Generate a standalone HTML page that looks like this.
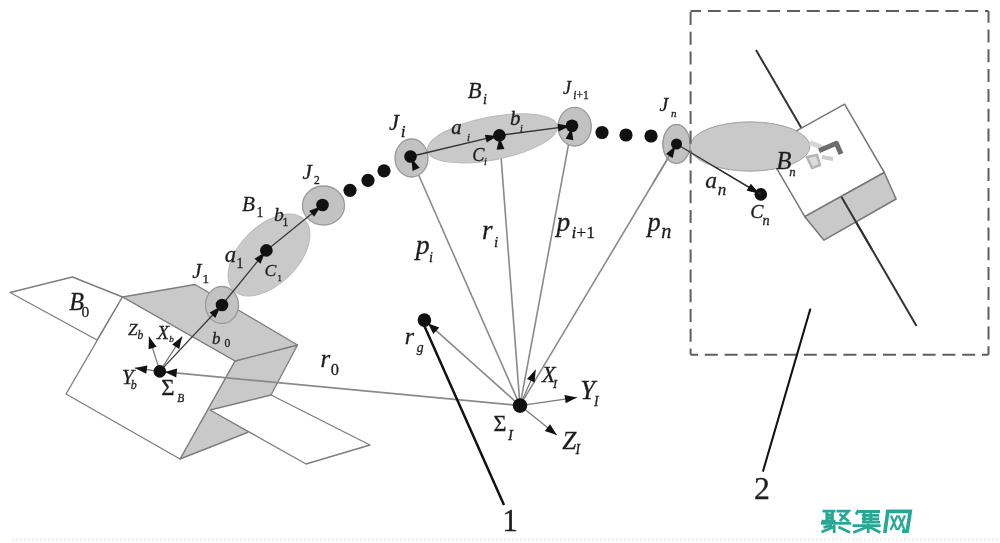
<!DOCTYPE html>
<html><head><meta charset="utf-8"><style>
html,body{margin:0;padding:0;background:#fff;width:1000px;height:543px;overflow:hidden}
svg{display:block;will-change:transform}
text{font-family:"Liberation Serif",serif}
</style></head><body>
<svg width="1000" height="543" viewBox="0 0 1000 543">
<rect width="1000" height="543" fill="#fff"/>
<polygon points="10,292.5 72.5,277 122.5,297 97,340" fill="#fff" stroke="#7e7e7e" stroke-width="1.35" stroke-linejoin="round"/>
<polygon points="235,361 297.5,345 271,395 247.5,432.5 180,459" fill="#c9c9c9" stroke="#7e7e7e" stroke-width="1.35" stroke-linejoin="round"/>
<polygon points="210,410 271,395 370,445 306,464" fill="#fff" stroke="#7e7e7e" stroke-width="1.35" stroke-linejoin="round"/>
<polygon points="122.5,297 195,284.5 297.5,345 235,361" fill="#c9c9c9" stroke="#7e7e7e" stroke-width="1.35" stroke-linejoin="round"/>
<polygon points="122.5,297 235,361 180,459 66,394" fill="#fff" stroke="#7e7e7e" stroke-width="1.35" stroke-linejoin="round"/>
<line x1="520.0" y1="405.6" x2="159.8" y2="371.4" stroke="#8a8a8a" stroke-width="1.8"/>
<line x1="520.0" y1="405.6" x2="410.5" y2="156.5" stroke="#8a8a8a" stroke-width="1.6"/>
<line x1="520.0" y1="405.6" x2="499.4" y2="135.4" stroke="#8a8a8a" stroke-width="1.6"/>
<line x1="520.0" y1="405.6" x2="572.0" y2="125.8" stroke="#8a8a8a" stroke-width="1.6"/>
<line x1="520.0" y1="405.6" x2="676.5" y2="144.0" stroke="#8a8a8a" stroke-width="1.6"/>
<line x1="520.0" y1="405.6" x2="424.4" y2="320.1" stroke="#8a8a8a" stroke-width="1.6"/>
<ellipse cx="269" cy="255" rx="50" ry="29" transform="rotate(-45 269 255)" fill="#c9c9c9" stroke="#b8b8b8" stroke-width="1"/>
<ellipse cx="492.4" cy="138.3" rx="66" ry="21.5" transform="rotate(-11 492.4 138.3)" fill="#c9c9c9" stroke="#b8b8b8" stroke-width="1"/>
<ellipse cx="750" cy="146.5" rx="60" ry="24.5" transform="rotate(0 750 146.5)" fill="#c9c9c9" stroke="#a8a8a8" stroke-width="1"/>
<ellipse cx="222" cy="305" rx="16.5" ry="18.5" transform="rotate(0 222 305)" fill="#c2c2c2" stroke="#9a9a9a" stroke-width="1.3"/>
<ellipse cx="323.5" cy="205.5" rx="21" ry="19.5" transform="rotate(0 323.5 205.5)" fill="#c2c2c2" stroke="#9a9a9a" stroke-width="1.3"/>
<ellipse cx="411.5" cy="158" rx="16.5" ry="19" transform="rotate(0 411.5 158)" fill="#c2c2c2" stroke="#9a9a9a" stroke-width="1.3"/>
<ellipse cx="574.7" cy="126.7" rx="16.6" ry="19.3" transform="rotate(0 574.7 126.7)" fill="#c2c2c2" stroke="#9a9a9a" stroke-width="1.3"/>
<ellipse cx="676.5" cy="144" rx="13.5" ry="19.4" transform="rotate(0 676.5 144)" fill="#c2c2c2" stroke="#9a9a9a" stroke-width="1.3"/>
<line x1="159.8" y1="371.4" x2="222.0" y2="305.0" stroke="#3a3a3a" stroke-width="1.3"/><polygon points="220.6,306.5 215.3,317.9 209.6,312.6" fill="#111"/>
<line x1="222.0" y1="305.0" x2="266.4" y2="250.4" stroke="#3a3a3a" stroke-width="1.3"/><polygon points="265.1,252.0 260.6,263.7 254.5,258.8" fill="#111"/>
<line x1="266.4" y1="250.4" x2="322.5" y2="205.0" stroke="#3a3a3a" stroke-width="1.3"/><polygon points="320.9,206.3 314.1,216.8 309.2,210.8" fill="#111"/>
<line x1="410.5" y1="156.5" x2="499.4" y2="135.4" stroke="#333" stroke-width="1.3"/><polygon points="497.5,135.9 486.7,142.4 484.9,134.8" fill="#111"/>
<line x1="499.4" y1="135.4" x2="572.0" y2="125.8" stroke="#333" stroke-width="1.3"/><polygon points="570.0,126.0 558.6,131.5 557.6,123.7" fill="#111"/>
<line x1="676.5" y1="144.0" x2="760.8" y2="194.4" stroke="#333" stroke-width="1.3"/><polygon points="759.1,193.4 746.8,190.6 750.8,183.9" fill="#111"/>
<polygon points="411.3,158.3 419.7,167.7 412.6,170.9" fill="#111"/>
<polygon points="499.6,137.4 504.4,149.1 496.6,149.7" fill="#111"/>
<polygon points="571.6,127.7 573.3,140.2 565.6,138.8" fill="#111"/>
<polygon points="675.5,145.7 672.7,158.0 666.0,154.0" fill="#111"/>
<polygon points="428.1,323.4 439.3,327.4 433.3,334.1" fill="#111"/>
<polygon points="164.8,371.9 177.1,368.5 176.3,377.5" fill="#111"/>
<line x1="159.8" y1="371.4" x2="149.0" y2="336.6" stroke="#7a7a7a" stroke-width="1.3"/><polygon points="149.0,336.6 156.6,346.8 148.5,349.3" fill="#111"/>
<line x1="159.8" y1="371.4" x2="182.2" y2="336.6" stroke="#7a7a7a" stroke-width="1.3"/><polygon points="182.2,336.6 179.2,349.0 172.2,344.4" fill="#111"/>
<line x1="159.8" y1="371.4" x2="134.9" y2="368.0" stroke="#7a7a7a" stroke-width="1.3"/><polygon points="134.9,368.0 147.4,365.5 146.2,373.8" fill="#111"/>
<line x1="520.0" y1="405.6" x2="535.6" y2="369.7" stroke="#7a7a7a" stroke-width="1.3"/><polygon points="535.6,369.7 534.7,382.4 527.0,379.0" fill="#111"/>
<line x1="520.0" y1="405.6" x2="577.0" y2="397.4" stroke="#7a7a7a" stroke-width="1.3"/><polygon points="577.0,397.4 565.7,403.3 564.5,395.0" fill="#111"/>
<line x1="520.0" y1="405.6" x2="556.8" y2="435.1" stroke="#7a7a7a" stroke-width="1.3"/><polygon points="556.8,435.1 544.8,430.9 550.1,424.3" fill="#111"/>
<line x1="422.6" y1="322.0" x2="504.0" y2="505.0" stroke="#111" stroke-width="2.5"/>
<circle cx="159.8" cy="371.4" r="6.3" fill="#111"/>
<circle cx="222" cy="305" r="6.3" fill="#111"/>
<circle cx="266.4" cy="250.4" r="6.3" fill="#111"/>
<circle cx="322.5" cy="205" r="6.3" fill="#111"/>
<circle cx="410.5" cy="156.5" r="6.3" fill="#111"/>
<circle cx="499.4" cy="135.4" r="6.3" fill="#111"/>
<circle cx="572" cy="125.75" r="6.3" fill="#111"/>
<circle cx="760.8" cy="194.4" r="6.3" fill="#111"/>
<circle cx="676.5" cy="144" r="5.5" fill="#111"/>
<circle cx="350" cy="190.3" r="6.6" fill="#111"/>
<circle cx="368" cy="180.3" r="6.6" fill="#111"/>
<circle cx="384" cy="170.8" r="6.6" fill="#111"/>
<circle cx="602" cy="132.5" r="6.6" fill="#111"/>
<circle cx="626" cy="135" r="6.6" fill="#111"/>
<circle cx="651" cy="136" r="6.6" fill="#111"/>
<circle cx="520" cy="405.6" r="7.3" fill="#111"/>
<circle cx="424.4" cy="320.1" r="6.8" fill="#111"/>
<line x1="756.0" y1="50.0" x2="916.5" y2="326.0" stroke="#333" stroke-width="2"/>
<polygon points="844.6,104.1 884.3,172.5 804.8,216.7 765,148.3" fill="#fff" stroke="#777" stroke-width="1.5" stroke-linejoin="round"/>
<polygon points="804.8,216.7 884.3,172.5 896.1,199 824,240.2" fill="#c9c9c9" stroke="#777" stroke-width="1.5" stroke-linejoin="round"/>
<line x1="841.5" y1="197.0" x2="871.7" y2="249.0" stroke="#333" stroke-width="2"/>
<ellipse cx="750" cy="146.5" rx="60" ry="24.5" transform="rotate(0 750 146.5)" fill="#c9c9c9" stroke="#a8a8a8" stroke-width="1"/>
<polyline points="810,142.5 823,148" fill="none" stroke="#d6d6d6" stroke-width="5"/>
<path d="M807,157 L812,168 L820,165 L817,155 Z" fill="#dcdcdc" stroke="#b4b4b4" stroke-width="2.5" stroke-linejoin="round"/>
<polyline points="822,157 833,159" fill="none" stroke="#cdcdcd" stroke-width="4"/>
<polyline points="819,150.7 836.4,143.3 841,154" fill="none" stroke="#6c6c6c" stroke-width="5" stroke-linejoin="round"/>
<ellipse cx="676.5" cy="144" rx="13.5" ry="19.4" transform="rotate(0 676.5 144)" fill="#c2c2c2" stroke="#9a9a9a" stroke-width="1.3"/>
<line x1="676.5" y1="144.0" x2="760.8" y2="194.4" stroke="#333" stroke-width="1.3"/><polygon points="759.1,193.4 746.8,190.6 750.8,183.9" fill="#111"/>
<line x1="653.0" y1="183.2" x2="676.5" y2="144.0" stroke="#8a8a8a" stroke-width="1.5"/>
<polygon points="675.5,145.7 672.7,158.0 666.0,154.0" fill="#111"/>
<circle cx="676.5" cy="144" r="5.5" fill="#111"/>
<line x1="690.6" y1="11" x2="988.5" y2="11" stroke="#5e5e5e" stroke-width="2" stroke-dasharray="13,6.8" stroke-dashoffset="2.6"/>
<line x1="690.6" y1="11" x2="690.6" y2="354.7" stroke="#5e5e5e" stroke-width="2" stroke-dasharray="13,6.8" stroke-dashoffset="-1"/>
<line x1="690.6" y1="354.7" x2="988.5" y2="354.7" stroke="#5e5e5e" stroke-width="2" stroke-dasharray="13,6.8" stroke-dashoffset="5.6"/>
<line x1="988.5" y1="354.7" x2="988.5" y2="11" stroke="#5e5e5e" stroke-width="2" stroke-dasharray="13,6.8" stroke-dashoffset="4.6"/>
<line x1="810.4" y1="308.6" x2="762.9" y2="471.6" stroke="#111" stroke-width="2"/>
<text x="69.3" y="309.7" font-size="24.2" font-style="italic" fill="#1e1e1e" stroke="#1e1e1e" stroke-width="0.3">B</text>
<text x="81.5" y="317.1" font-size="15.5" font-style="normal" fill="#1e1e1e" stroke="#1e1e1e" stroke-width="0.3">0</text>
<text x="192.2" y="278.1" font-size="20.8" font-style="italic" fill="#1e1e1e" stroke="#1e1e1e" stroke-width="0.3">J</text>
<text x="202.5" y="282.8" font-size="13.2" font-style="normal" fill="#1e1e1e" stroke="#1e1e1e" stroke-width="0.3">1</text>
<text x="264.6" y="276.2" font-size="17.7" font-style="italic" fill="#1e1e1e" stroke="#1e1e1e" stroke-width="0.3">C</text>
<text x="277.4" y="280.8" font-size="8.6" font-style="normal" fill="#1e1e1e" stroke="#1e1e1e" stroke-width="0.3">1</text>
<text x="242.0" y="211.2" font-size="21.1" font-style="italic" fill="#1e1e1e" stroke="#1e1e1e" stroke-width="0.3">B</text>
<text x="256.5" y="217.0" font-size="13.9" font-style="normal" fill="#1e1e1e" stroke="#1e1e1e" stroke-width="0.3">1</text>
<text x="273.9" y="220.7" font-size="19.6" font-style="italic" fill="#1e1e1e" stroke="#1e1e1e" stroke-width="0.3">b</text>
<text x="282.4" y="225.8" font-size="11.7" font-style="normal" fill="#1e1e1e" stroke="#1e1e1e" stroke-width="0.3">1</text>
<text x="224.7" y="261.8" font-size="22.7" font-style="italic" fill="#1e1e1e" stroke="#1e1e1e" stroke-width="0.3">a</text>
<text x="236.6" y="267.8" font-size="13.9" font-style="normal" fill="#1e1e1e" stroke="#1e1e1e" stroke-width="0.3">1</text>
<text x="302.4" y="178.6" font-size="21.2" font-style="italic" fill="#1e1e1e" stroke="#1e1e1e" stroke-width="0.3">J</text>
<text x="314.0" y="183.7" font-size="11.5" font-style="normal" fill="#1e1e1e" stroke="#1e1e1e" stroke-width="0.3">2</text>
<text x="128.1" y="334.9" font-size="17.1" font-style="italic" fill="#1e1e1e" stroke="#1e1e1e" stroke-width="0.3">Z</text>
<text x="137.4" y="339.0" font-size="11.6" font-style="italic" fill="#1e1e1e" stroke="#1e1e1e" stroke-width="0.3">b</text>
<text x="157.0" y="338.5" font-size="19.8" font-style="italic" fill="#1e1e1e" stroke="#1e1e1e" stroke-width="0.3">X</text>
<text x="169.3" y="341.8" font-size="9.0" font-style="italic" fill="#1e1e1e" stroke="#1e1e1e" stroke-width="0.3">b</text>
<text x="121.7" y="383.8" font-size="21.5" font-style="italic" fill="#1e1e1e" stroke="#1e1e1e" stroke-width="0.3">Y</text>
<text x="130.8" y="389.2" font-size="12.0" font-style="italic" fill="#1e1e1e" stroke="#1e1e1e" stroke-width="0.3">b</text>
<text x="161.2" y="395.3" font-size="22.9" font-style="normal" fill="#1e1e1e" stroke="#1e1e1e" stroke-width="0.3">&#931;</text>
<text x="177.2" y="402.2" font-size="11.5" font-style="italic" fill="#1e1e1e" stroke="#1e1e1e" stroke-width="0.3">B</text>
<text x="212.1" y="344.3" font-size="16.9" font-style="italic" fill="#1e1e1e" stroke="#1e1e1e" stroke-width="0.3">b</text>
<text x="224.4" y="347.3" font-size="11.6" font-style="normal" fill="#1e1e1e" stroke="#1e1e1e" stroke-width="0.3">0</text>
<text x="320.5" y="367.4" font-size="24.9" font-style="italic" fill="#1e1e1e" stroke="#1e1e1e" stroke-width="0.3">r</text>
<text x="330.8" y="374.8" font-size="16.4" font-style="normal" fill="#1e1e1e" stroke="#1e1e1e" stroke-width="0.3">0</text>
<text x="388.9" y="129.8" font-size="22.4" font-style="italic" fill="#1e1e1e" stroke="#1e1e1e" stroke-width="0.3">J</text>
<text x="400.8" y="137.4" font-size="17.4" font-style="italic" fill="#1e1e1e" stroke="#1e1e1e" stroke-width="0.3">i</text>
<text x="451.3" y="133.6" font-size="20.6" font-style="italic" fill="#1e1e1e" stroke="#1e1e1e" stroke-width="0.3">a</text>
<text x="467.0" y="141.2" font-size="10.8" font-style="italic" fill="#1e1e1e" stroke="#1e1e1e" stroke-width="0.3">i</text>
<text x="467.8" y="97.7" font-size="22.5" font-style="italic" fill="#1e1e1e" stroke="#1e1e1e" stroke-width="0.3">B</text>
<text x="482.9" y="103.8" font-size="14.3" font-style="italic" fill="#1e1e1e" stroke="#1e1e1e" stroke-width="0.3">i</text>
<text x="510.1" y="124.5" font-size="20.9" font-style="italic" fill="#1e1e1e" stroke="#1e1e1e" stroke-width="0.3">b</text>
<text x="519.9" y="131.8" font-size="10.3" font-style="italic" fill="#1e1e1e" stroke="#1e1e1e" stroke-width="0.3">i</text>
<text x="472.2" y="160.5" font-size="18.2" font-style="italic" fill="#1e1e1e" stroke="#1e1e1e" stroke-width="0.3">C</text>
<text x="484.0" y="164.9" font-size="10.3" font-style="italic" fill="#1e1e1e" stroke="#1e1e1e" stroke-width="0.3">i</text>
<text x="563.1" y="94.0" font-size="18.2" font-style="italic" fill="#1e1e1e" stroke="#1e1e1e" stroke-width="0.3">J</text>
<text x="573.3" y="99.4" font-size="11.5" font-style="normal" fill="#1e1e1e" stroke="#1e1e1e" stroke-width="0.3"><tspan font-style="italic">i</tspan>+1</text>
<text x="415.8" y="254.1" font-size="27.8" font-style="italic" fill="#1e1e1e" stroke="#1e1e1e" stroke-width="0.3">p</text>
<text x="428.9" y="261.8" font-size="14.3" font-style="italic" fill="#1e1e1e" stroke="#1e1e1e" stroke-width="0.3">i</text>
<text x="481.9" y="238.9" font-size="27.2" font-style="italic" fill="#1e1e1e" stroke="#1e1e1e" stroke-width="0.3">r</text>
<text x="494.0" y="246.8" font-size="15.2" font-style="italic" fill="#1e1e1e" stroke="#1e1e1e" stroke-width="0.3">i</text>
<text x="556.6" y="230.5" font-size="27.4" font-style="italic" fill="#1e1e1e" stroke="#1e1e1e" stroke-width="0.3">p</text>
<text x="571.4" y="238.3" font-size="17.6" font-style="normal" fill="#1e1e1e" stroke="#1e1e1e" stroke-width="0.3"><tspan font-style="italic">i</tspan>+1</text>
<text x="647.5" y="231.4" font-size="26.3" font-style="italic" fill="#1e1e1e" stroke="#1e1e1e" stroke-width="0.3">p</text>
<text x="661.3" y="238.3" font-size="20.2" font-style="italic" fill="#1e1e1e" stroke="#1e1e1e" stroke-width="0.3">n</text>
<text x="404.8" y="343.8" font-size="23.8" font-style="italic" fill="#1e1e1e" stroke="#1e1e1e" stroke-width="0.3">r</text>
<text x="416.8" y="352.0" font-size="13.7" font-style="italic" fill="#1e1e1e" stroke="#1e1e1e" stroke-width="0.3">g</text>
<text x="542.0" y="381.5" font-size="22.2" font-style="italic" fill="#1e1e1e" stroke="#1e1e1e" stroke-width="0.3">X</text>
<text x="553.1" y="387.9" font-size="12.2" font-style="italic" fill="#1e1e1e" stroke="#1e1e1e" stroke-width="0.3">I</text>
<text x="580.3" y="399.3" font-size="26.5" font-style="italic" fill="#1e1e1e" stroke="#1e1e1e" stroke-width="0.3">Y</text>
<text x="593.9" y="406.4" font-size="13.7" font-style="italic" fill="#1e1e1e" stroke="#1e1e1e" stroke-width="0.3">I</text>
<text x="493.5" y="431.2" font-size="22.2" font-style="normal" fill="#1e1e1e" stroke="#1e1e1e" stroke-width="0.3">&#931;</text>
<text x="508.1" y="439.5" font-size="15.1" font-style="italic" fill="#1e1e1e" stroke="#1e1e1e" stroke-width="0.3">I</text>
<text x="562.2" y="448.8" font-size="25.2" font-style="italic" fill="#1e1e1e" stroke="#1e1e1e" stroke-width="0.3">Z</text>
<text x="575.4" y="454.2" font-size="13.7" font-style="italic" fill="#1e1e1e" stroke="#1e1e1e" stroke-width="0.3">I</text>
<text x="659.5" y="111.3" font-size="19.7" font-style="italic" fill="#1e1e1e" stroke="#1e1e1e" stroke-width="0.3">J</text>
<text x="671.0" y="117.0" font-size="11.1" font-style="italic" fill="#1e1e1e" stroke="#1e1e1e" stroke-width="0.3">n</text>
<text x="705.2" y="187.8" font-size="23.5" font-style="italic" fill="#1e1e1e" stroke="#1e1e1e" stroke-width="0.3">a</text>
<text x="717.7" y="194.8" font-size="17.0" font-style="italic" fill="#1e1e1e" stroke="#1e1e1e" stroke-width="0.3">n</text>
<text x="776.2" y="169.2" font-size="24.9" font-style="italic" fill="#1e1e1e" stroke="#1e1e1e" stroke-width="0.3">B</text>
<text x="789.2" y="176.2" font-size="12.8" font-style="italic" fill="#1e1e1e" stroke="#1e1e1e" stroke-width="0.3">n</text>
<text x="750.3" y="218.3" font-size="19.8" font-style="italic" fill="#1e1e1e" stroke="#1e1e1e" stroke-width="0.3">C</text>
<text x="762.6" y="224.7" font-size="14.3" font-style="italic" fill="#1e1e1e" stroke="#1e1e1e" stroke-width="0.3">n</text>
<text x="502.3" y="530.9" font-size="31.4" font-style="normal" fill="#1e1e1e" stroke="#1e1e1e" stroke-width="0.3">1</text>
<text x="753.9" y="499.4" font-size="31.8" font-style="normal" fill="#1e1e1e" stroke="#1e1e1e" stroke-width="0.3">2</text>
<g fill="none" stroke="#28a894" stroke-width="2.8" stroke-linecap="butt" stroke-linejoin="miter">
<path d="M822.5,511.2 H835.5 M826.8,511.2 V521 M832.5,511.2 V521 M826.8,514.8 H832.5 M826.8,518 H832.5 M821.5,521.2 H835.5"/>
<path d="M836.5,511.2 H848.5 L840,521.2 M839.5,514 L849,521.5"/>
<path d="M821,523.3 H851"/>
<path d="M821.5,532 L835,526.5 M823.5,527.3 L832,525.2 M834.2,525 V533 M838.5,527 L850,532.5"/>
</g>
<g fill="none" stroke="#28a894" stroke-width="2.8" stroke-linecap="butt">
<path d="M858.5,510 L856,514.5 M859,511.5 H880 M862,515.3 H879 M862,518.8 H879 M862,522.2 H880 M864.3,510 V522.5 M870.8,511 V522.5"/>
<path d="M852.5,525.6 H880.6 M868.2,523.5 V533 M867,527 L853.3,532.5 M869.5,527 L880.3,532.5"/>
</g>
<g fill="none" stroke="#28a894" stroke-width="3.6" stroke-linecap="butt" stroke-linejoin="miter">
<path d="M884.8,533 L887.8,511.4 H910.3 L907.2,531.3 H902"/>
</g>
<g fill="none" stroke="#28a894" stroke-width="2.2" stroke-linecap="butt">
<path d="M891,515.5 L897,530 M897.5,515.5 L890.5,530 M898.5,515.5 L904.5,530 M905,515.5 L898,530"/>
</g>
<line x1="12" y1="539.5" x2="1000" y2="539.5" stroke="#f3f3f3" stroke-width="4" stroke-dasharray="2,2"/>
</svg></body></html>
